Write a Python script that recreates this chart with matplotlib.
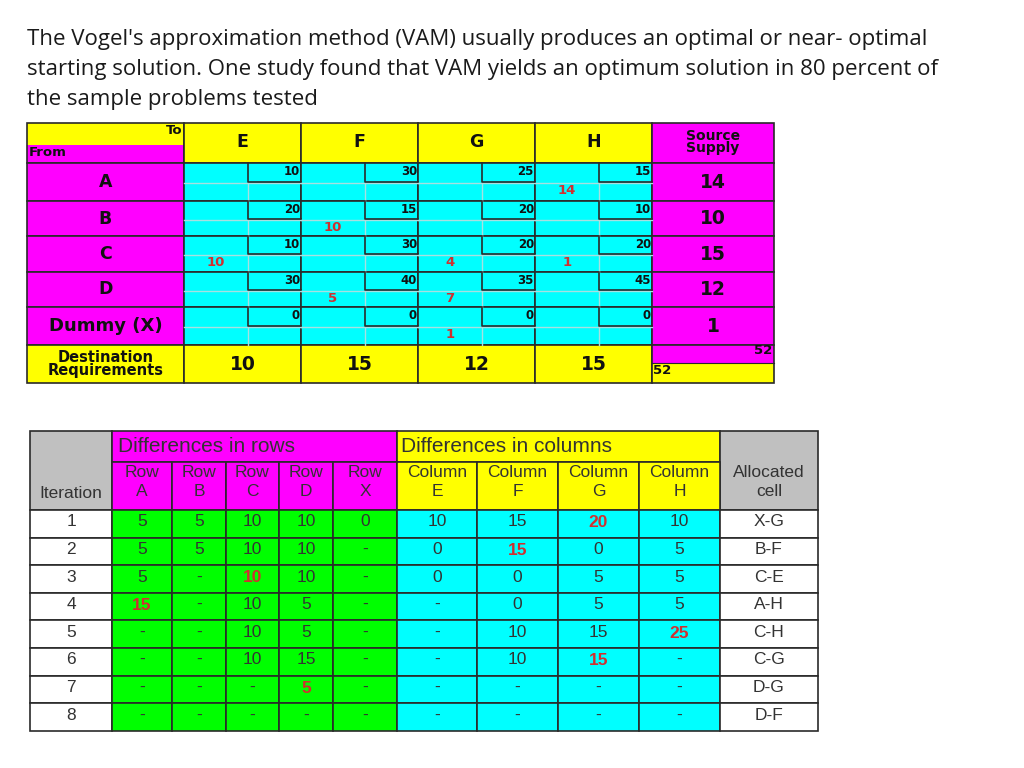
import matplotlib
matplotlib.use("Agg")
import matplotlib.pyplot as plt
from matplotlib.patches import Rectangle

# ---- data -------------------------------------------------------------
title_lines = [
    "The Vogel's approximation method (VAM) usually produces an optimal or near- optimal",
    "starting solution. One study found that VAM yields an optimum solution in 80 percent of",
    "the sample problems tested",
]

sources = ["A", "B", "C", "D", "Dummy (X)"]
destinations = ["E", "F", "G", "H"]
costs = [
    [10, 30, 25, 15],
    [20, 15, 20, 10],
    [10, 30, 20, 20],
    [30, 40, 35, 45],
    [0, 0, 0, 0],
]
allocations = [
    [None, None, None, 14],
    [None, 10, None, None],
    [10, None, 4, 1],
    [None, 5, 7, None],
    [None, None, 1, None],
]
supply = [14, 10, 15, 12, 1]
demand = [10, 15, 12, 15]
total = 52

iterations = [1, 2, 3, 4, 5, 6, 7, 8]
row_labels = ["A", "B", "C", "D", "X"]
row_diffs = [
    ["5", "5", "10", "10", "0"],
    ["5", "5", "10", "10", "-"],
    ["5", "-", "10", "10", "-"],
    ["15", "-", "10", "5", "-"],
    ["-", "-", "10", "5", "-"],
    ["-", "-", "10", "15", "-"],
    ["-", "-", "-", "5", "-"],
    ["-", "-", "-", "-", "-"],
]
col_labels = ["E", "F", "G", "H"]
col_diffs = [
    ["10", "15", "20", "10"],
    ["0", "15", "0", "5"],
    ["0", "0", "5", "5"],
    ["-", "0", "5", "5"],
    ["-", "10", "15", "25"],
    ["-", "10", "15", "-"],
    ["-", "-", "-", "-"],
    ["-", "-", "-", "-"],
]
allocated = ["X-G", "B-F", "C-E", "A-H", "C-H", "C-G", "D-G", "D-F"]
# highlighted (red) penalty per iteration: (kind, index)
chosen = [("c", 2), ("c", 1), ("r", 2), ("r", 0), ("c", 3), ("c", 2), ("r", 3), None]

YEL, MAG, CYA, GRN, GRY = "#FFFF00", "#FF00FF", "#00FFFF", "#00FF00", "#C0C0C0"
RED = "#D03030"
DARK = "#2a2a2a"

fig = plt.figure(figsize=(10.24, 7.68), dpi=100)
ax = fig.add_axes([0, 0, 1, 1])
ax.set_xlim(0, 1024)
ax.set_ylim(768, 0)
ax.axis("off")


def box(x0, y0, x1, y1, fc, lw=1.2, ec=DARK):
    ax.add_patch(Rectangle((x0, y0), x1 - x0, y1 - y0, fc=fc, ec=ec, lw=lw))


# ---- title ------------------------------------------------------------
for i, line in enumerate(title_lines):
    ax.text(27, 45 + 30 * i, line, fontsize=16, family="Open Sans",
            color="#1a1a1a", va="baseline", ha="left")

# ---- top transportation table -----------------------------------------
tx = [27, 184, 301, 418, 535, 652, 774]
ty = [123, 163, 201, 236, 272, 307, 345, 383]
bold = dict(family="DejaVu Sans", fontweight="bold", color="#111111")

# header
box(tx[0], ty[0], tx[1], 145, YEL, lw=0)
box(tx[0], 145, tx[1], ty[1], MAG, lw=0)
box(tx[0], ty[0], tx[1], ty[1], "none")
ax.text(tx[1] - 2, 131, "To", ha="right", va="center", fontsize=9.5, **bold)
ax.text(tx[0] + 2, 152, "From", ha="left", va="center", fontsize=9.5, **bold)
for j, d in enumerate(destinations):
    box(tx[j + 1], ty[0], tx[j + 2], ty[1], YEL)
    ax.text((tx[j + 1] + tx[j + 2]) / 2, 142, d, ha="center", va="center",
            fontsize=12.5, **bold)
box(tx[5], ty[0], tx[6], ty[1], MAG)
ax.text((tx[5] + tx[6]) / 2, 142, "Source\nSupply", ha="center", va="center",
        fontsize=10, linespacing=0.85, **bold)

for i, s in enumerate(sources):
    y0, y1 = ty[i + 1], ty[i + 2]
    ym = (y0 + y1) / 2
    box(tx[0], y0, tx[1], y1, MAG)
    ax.text((tx[0] + tx[1]) / 2, ym, s, ha="center", va="center",
            fontsize=13 if len(s) > 1 else 12.5, **bold)
    for j in range(4):
        x0, x1 = tx[j + 1], tx[j + 2]
        box(x0, y0, x1, y1, CYA)
        xb = x1 - 53
        # faint inner grid
        ax.plot([xb, xb], [ym, y1], color="#a8e0e0", lw=1)
        ax.plot([x0, x1], [ym + 1, ym + 1], color="#a8e0e0", lw=1)
        # cost box
        ax.plot([xb, xb, x1], [y0, ym, ym], color=DARK, lw=1.2)
        ax.text(x1 - 1, y0 + 2, str(costs[i][j]), ha="right", va="top",
                fontsize=8.5, **bold)
        a = allocations[i][j]
        if a is not None:
            ax.text((x0 + xb) / 2, ym + 9, str(a), ha="center", va="center",
                    fontsize=9.5, family="DejaVu Sans", fontweight="bold", color=RED)
    box(tx[5], y0, tx[6], y1, MAG)
    ax.text((tx[5] + tx[6]) / 2, ym, str(supply[i]), ha="center", va="center",
            fontsize=13.5, **bold)

y0, y1 = ty[6], ty[7]
box(tx[0], y0, tx[1], y1, YEL)
ax.text((tx[0] + tx[1]) / 2, (y0 + y1) / 2, "Destination\nRequirements",
        ha="center", va="center", fontsize=10.5, linespacing=0.85, **bold)
for j, d in enumerate(demand):
    box(tx[j + 1], y0, tx[j + 2], y1, YEL)
    ax.text((tx[j + 1] + tx[j + 2]) / 2, (y0 + y1) / 2, str(d), ha="center",
            va="center", fontsize=13.5, **bold)
box(tx[5], y0, tx[6], 363, MAG, lw=0)
box(tx[5], 363, tx[6], y1, YEL, lw=0)
ax.plot([tx[5], tx[6]], [363, 363], color=DARK, lw=0.8)
ax.add_patch(Rectangle((tx[5], y0), tx[6] - tx[5], y1 - y0, fc="none", ec=DARK, lw=1.2))
ax.text(tx[6] - 2, 351, str(total), ha="right", va="center", fontsize=9.5, **bold)
ax.text(tx[5] + 1, 371, str(total), ha="left", va="center", fontsize=9.5, **bold)

# ---- VAM iteration table ----------------------------------------------
bx = [30, 112, 172, 226, 279, 333, 397, 477, 558, 639, 720, 818]
by = [431, 462, 510] + [510 + 27.6 * (k + 1) for k in range(8)]
thin = dict(family="Liberation Sans", color="#333333")

box(bx[0], by[0], bx[1], by[2], GRY)
ax.text((bx[0] + bx[1]) / 2, 494, "Iteration", ha="center", va="center",
        fontsize=12.5, **thin)
box(bx[1], by[0], bx[6], by[1], MAG)
ax.text(bx[1] + 6, (by[0] + by[1]) / 2, "Differences in rows", ha="left",
        va="center", fontsize=15, **thin)
box(bx[6], by[0], bx[10], by[1], YEL)
ax.text(bx[6] + 4, (by[0] + by[1]) / 2, "Differences in columns", ha="left",
        va="center", fontsize=15, **thin)
box(bx[10], by[0], bx[11], by[2], GRY)
ax.text((bx[10] + bx[11]) / 2, 482, "Allocated\ncell", ha="center", va="center",
        fontsize=12.5, linespacing=1.3, **thin)
for k, r in enumerate(row_labels):
    box(bx[1 + k], by[1], bx[2 + k], by[2], MAG)
    ax.text((bx[1 + k] + bx[2 + k]) / 2, 482, "Row\n" + r, ha="center",
            va="center", fontsize=12.5, linespacing=1.3, **thin)
for k, c in enumerate(col_labels):
    box(bx[6 + k], by[1], bx[7 + k], by[2], YEL)
    ax.text((bx[6 + k] + bx[7 + k]) / 2, 482, "Column\n" + c, ha="center",
            va="center", fontsize=12.5, linespacing=1.3, **thin)

for n, it in enumerate(iterations):
    y0, y1 = by[2 + n], by[3 + n]
    ym = (y0 + y1) / 2
    box(bx[0], y0, bx[1], y1, "white")
    ax.text((bx[0] + bx[1]) / 2, ym - 2, str(it), ha="center", va="center",
            fontsize=12.5, **thin)
    cells = [(v, GRN, ("r", k)) for k, v in enumerate(row_diffs[n])] + \
            [(v, CYA, ("c", k)) for k, v in enumerate(col_diffs[n])]
    for m, (v, fc, key) in enumerate(cells):
        x0, x1 = bx[1 + m], bx[2 + m]
        box(x0, y0, x1, y1, fc)
        if chosen[n] == key:
            ax.text((x0 + x1) / 2, ym - 1, v, ha="center", va="center", fontsize=12.5,
                    family="Liberation Sans", fontweight="bold", color=RED)
        else:
            ax.text((x0 + x1) / 2, ym - 2, v, ha="center", va="center",
                    fontsize=12.5, **thin)
    box(bx[10], y0, bx[11], y1, "white")
    ax.text((bx[10] + bx[11]) / 2, ym - 2, allocated[n], ha="center",
            va="center", fontsize=12.5, **thin)

fig.savefig("out.png", dpi=100)
